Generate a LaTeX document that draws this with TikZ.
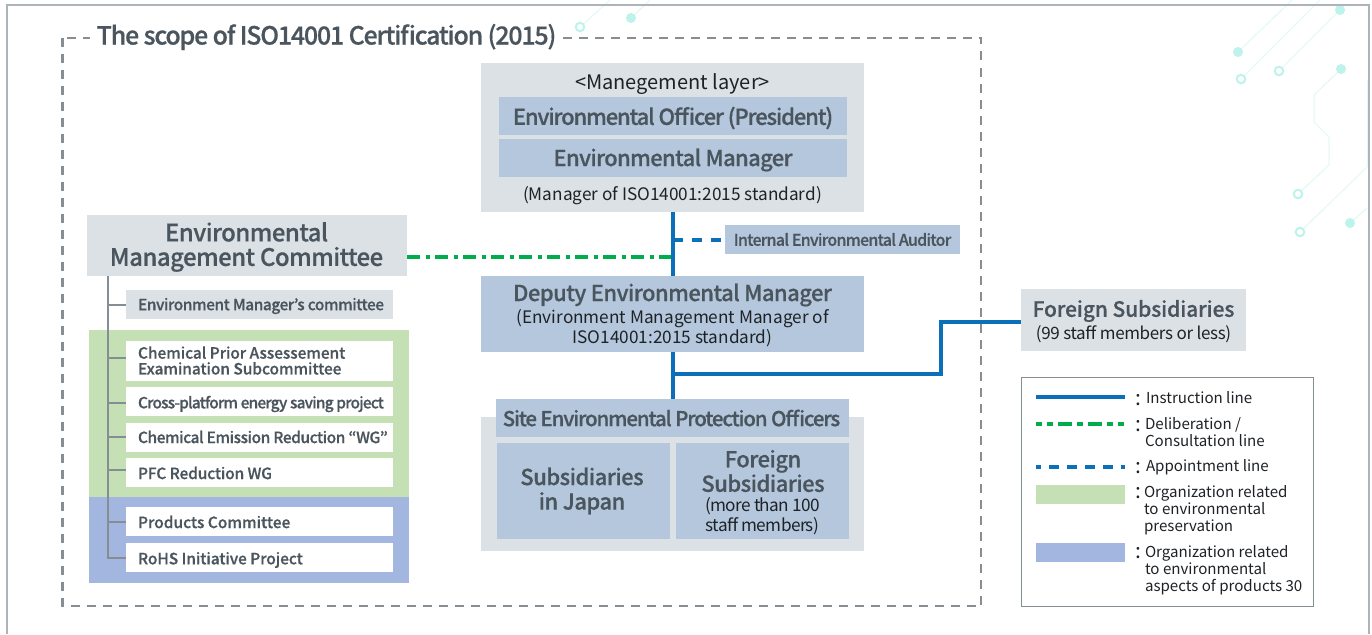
\documentclass[tikz,border=0pt]{standalone}
\usepackage{fontspec}
\setmainfont{Noto Sans CJK JP}
\newfontfamily\medf[FakeBold=0.5]{Noto Sans CJK JP Medium}
\newcommand{\fs}[2]{\fontsize{#1}{#2}\selectfont}
\newcommand{\ls}[1]{\addfontfeature{LetterSpace=#1}}
\definecolor{framec}{HTML}{ADB4B9}
\definecolor{dashc}{HTML}{858E95}
\definecolor{bandc}{HTML}{B4C7DC}
\definecolor{grayc}{HTML}{DCE1E6}
\definecolor{greenc}{HTML}{C5E0B4}
\definecolor{bluec}{HTML}{A2B6DF}
\definecolor{inkc}{HTML}{4A555E}
\definecolor{blackc}{HTML}{1E2226}
\definecolor{linec}{HTML}{0B6FBA}
\definecolor{dashg}{HTML}{00AC4C}
\definecolor{treec}{HTML}{858E95}
\definecolor{tealc}{HTML}{BDF3EA}
\definecolor{tealp}{HTML}{E2F9F4}
\tikzset{
  x=1pt,y=-1pt,
  pbox/.style={inner sep=0pt,outer sep=0pt},
  band/.style={pbox,fill=bandc},
  grayb/.style={pbox,fill=grayc},
  whiteb/.style={pbox,fill=white},
  htxt/.style={inner sep=0pt,outer sep=0pt,align=center,text=inkc,yshift=-2pt},
  small/.style={inner sep=0pt,outer sep=0pt,align=center,text=blackc,yshift=-2pt},
  ctxt/.style={inner sep=0pt,outer sep=0pt,align=left,anchor=west,text=inkc,yshift=-1.5pt,font=\medf\fs{15.5}{15.5}},
  legt/.style={inner sep=0pt,outer sep=0pt,align=left,anchor=north west,text=blackc,font=\fs{15.1}{17}},
  instr/.style={draw=linec,line width=4pt},
  consult/.style={draw=dashg,line width=4pt,dash pattern=on 13pt off 5.5pt on 4pt off 5.5pt},
  appoint/.style={draw=linec,line width=4pt,dash pattern=on 10pt off 9pt},
  tree/.style={draw=treec,line width=1.2pt},
  deco/.style={draw=tealp,line width=1pt},
  dotf/.style={circle,fill=tealc,inner sep=0pt,minimum size=10pt},
  doto/.style={circle,draw=tealc,fill=white,line width=2pt,inner sep=0pt,minimum size=8.5pt},
  legbox/.style={draw=dashc,fill=white,line width=1pt,inner sep=0pt},
}
\newcommand{\bx}[6]{\node[#1,minimum width=#5pt,minimum height=#6pt] (#2) at (#3,#4) {};}
\begin{document}
\begin{tikzpicture}
\useasboundingbox (0,0) rectangle (1372,634);
\fill[white] (0,0) rectangle (1372,634);
% circuit decoration
\draw[deco] (580,27) -- (610,0);
\draw[deco] (631,18) -- (650,0);
\draw[deco] (1238,52) -- (1292,0);
\draw[deco] (1241,79) -- (1320,0);
\draw[deco] (1279,71) -- (1340,10);
\draw[deco] (1341,69) -- (1314,95) -- (1314,122) -- (1329,137) -- (1329,165) -- (1298,194);
\draw[deco] (1300,232) -- (1367,167);
\draw[deco] (1350,223) -- (1367,208);
\draw[deco] (1367,80) -- (1367,167);
\node[doto] (d1) at (580,27) {};
\node[dotf] (d2) at (631,18) {};
\node[dotf] (d3) at (1238,52) {};
\node[dotf] (d4) at (1340,10) {};
\node[dotf] (d5) at (1341,69) {};
\node[dotf] (d6) at (1350,223) {};
\node[doto] (d7) at (1241,79) {};
\node[doto] (d8) at (1279,71) {};
\node[doto] (d9) at (1298,194) {};
\node[doto] (d10) at (1300,232) {};
% outer frame
\draw[framec,line width=2pt] (7,634) -- (7,5) -- (1369,5) -- (1369,634);
% scope
\draw[dashc,line width=2.5pt,dash pattern=on 9pt off 7pt] (62.5,38) rectangle (981,606);
\node[pbox,fill=white,minimum width=472pt,minimum height=30pt] (titlebg) at (326,35) {};
\node[htxt,font=\medf\fs{25}{25}\ls{-4.9}] (title) at (326.5,35) {The scope of ISO14001 Certification (2015)};
% management
\bx{grayb}{mgmt}{672.5}{137.5}{383}{149}
\node[small,font=\fs{20}{20}] (mlayer) at (672.5,82) {<Manegement layer>};
\bx{band}{officer}{673}{116}{348}{38}
\node[htxt,font=\medf\fs{22}{22}\ls{-5.2}] (officert) at (officer.center) {Environmental Officer (President)};
\bx{band}{envm}{673}{158}{348}{38}
\node[htxt,font=\medf\fs{22}{22}\ls{-3}] (envmt) at (envm.center) {Environmental Manager};
\node[small,font=\fs{17.2}{17.2}] (mstd) at (672.5,194) {(Manager of ISO14001:2015 standard)};
% deputy
\bx{band}{deputy}{672.5}{314}{383}{76}
\node[htxt,font=\medf\fs{22}{22}\ls{-2.5}] (deptxt) at (672.5,293) {Deputy Environmental Manager};
\node[small,font=\fs{17.2}{19.5}] (depsub) at (672.5,326) {(Environment Management Manager of\\ISO14001:2015 standard)};
% auditor
\bx{band}{auditor}{842.5}{239.5}{235}{29}
\node[htxt,font=\medf\fs{16}{16}\ls{-4.7}] (auditort) at (842.5,237.5) {Internal Environmental Auditor};
% committee
\bx{grayb}{committee}{247}{245.5}{320}{61}
\node[htxt,font=\medf\fs{24}{24.5}\ls{-2.3}] (committeet) at (246.5,245) {Environmental\\Management Committee};
% colour groups
\fill[greenc] (89,330) rectangle (409,497);
\fill[bluec] (89,497) rectangle (409,583);
% site
\bx{grayb}{sitebg}{672.5}{484}{383}{134}
\bx{band}{site}{672.5}{418}{353}{38}
\node[htxt,font=\medf\fs{20.5}{20.5}\ls{-5.6}] (sitet) at (671.5,416) {Site Environmental Protection Officers};
\bx{band}{japan}{583.5}{491}{173}{96}
\node[htxt,font=\medf\fs{22}{24.5}\ls{-2.3}] (japant) at (582,489) {Subsidiaries\\in Japan};
\bx{band}{forin}{762.5}{491}{173}{96}
\node[htxt,font=\medf\fs{22}{24.5}\ls{-2.3}] (fortxt) at (763,469) {Foreign\\Subsidiaries};
\node[small,font=\fs{17.2}{19.5}\ls{-3.7}] (forsub) at (762.5,514) {(more than 100\\staff members)};
% foreign small
\bx{grayb}{foreign}{1133.5}{320}{225}{62}
\node[htxt,font=\medf\fs{21}{21}\ls{-0.5}] (foretxt) at (1133.5,309) {Foreign Subsidiaries};
\node[small,font=\fs{17}{17}\ls{-2}] (foresub) at (1133.5,332) {(99 staff members or less)};
% connectors
\coordinate (j) at (673,374);
\coordinate (k) at (941,374);
\coordinate (fw) at (1021,322);
\coordinate (ma) at (673,240);
\coordinate (mg) at (671,257);
\draw[instr] (mgmt.south -| j) -- (deputy.north -| j);
\draw[instr] (deputy.south -| j) -- (site.north -| j);
\draw[instr] (j) -- (k) |- (fw);
\draw[appoint,shorten >=4pt] (ma) -- (auditor.west |- ma);
\draw[consult] (committee.east |- mg) -- (mg);
% sub committees
\bx{grayb}{c0}{259.5}{304.5}{267}{29}
\bx{whiteb}{c1}{259.5}{361}{267}{40}
\bx{whiteb}{c2}{259.5}{401.5}{267}{29}
\bx{whiteb}{c3}{259.5}{437.5}{267}{29}
\bx{whiteb}{c4}{259.5}{472.5}{267}{29}
\bx{whiteb}{c5}{259.5}{521.5}{267}{29}
\bx{whiteb}{c6}{259.5}{557.5}{267}{29}
\node[ctxt,font=\medf\fs{15.5}{15.5}\ls{-3}] (c0t) at (138,304.5) {Environment Manager’s committee};
\node[ctxt,font=\medf\fs{15.5}{15.8}\ls{-0.5}] (c1t) at (138,359) {Chemical Prior Assessement\\Examination Subcommittee};
\node[ctxt,font=\medf\fs{15.5}{15.5}\ls{-5.5}] (c2t) at (138,402.5) {Cross-platform energy saving project};
\node[ctxt,font=\medf\fs{15.5}{15.5}\ls{-3}] (c3t) at (138,435.5) {Chemical Emission Reduction “WG”};
\node[ctxt,font=\medf\fs{15.5}{15.5}\ls{-1}] (c4t) at (138,471.5) {PFC Reduction WG};
\node[ctxt] (c5t) at (138,520.5) {Products Committee};
\node[ctxt,font=\medf\fs{15.5}{15.5}\ls{-0.5}] (c6t) at (138,558.5) {RoHS Initiative Project};
\coordinate (t0) at (108,276);
\coordinate (t6) at (108,558);
\draw[tree] (t0) -- (t6) -- (c6.west |- t6);
\foreach \n/\yy in {c0/305,c1/358,c2/403,c3/437,c4/470,c5/522}{
  \coordinate (tt) at (108,\yy);
  \draw[tree] (tt) -- (\n.west |- tt);
}
% legend
\node[legbox,minimum width=292pt,minimum height=229pt] (legend) at (1167,491.5) {};
\fill[linec] (1036,395) rectangle (1125,399);
\draw[dashg,line width=4pt,dash pattern=on 6pt off 5pt on 6pt off 5pt on 14pt off 5pt on 6pt off 5pt on 14pt off 5pt on 6pt off 5pt on 6pt off 5pt] (1036,424) -- (1125,424);
\draw[linec,line width=4pt,dash pattern=on 5pt off 8pt on 10pt off 8pt on 10pt off 8pt on 10pt off 8pt on 10pt off 8pt on 5pt] (1036,466.5) -- (1125,466.5);
\fill[greenc] (1036,485) rectangle (1125,504);
\fill[bluec] (1036,543) rectangle (1125,562);
\foreach \yy/\nm in {398/la,424/lb,466/lc,491/ld,551/le}{
  \node[small,yshift=0pt,font=\fs{21}{21}] (\nm) at (1138,\yy) {:};
}
\node[legt] (t1) at (1146,391) {Instruction line};
\node[legt] (t2) at (1145,417) {Deliberation /\\Consultation line};
\node[legt] (t3) at (1146,459) {Appointment line};
\node[legt] (t4) at (1144,485) {Organization related\\to environmental\\preservation};
\node[legt] (t5) at (1145,545) {Organization related\\to environmental\\aspects of products 30};
\end{tikzpicture}
\end{document}
